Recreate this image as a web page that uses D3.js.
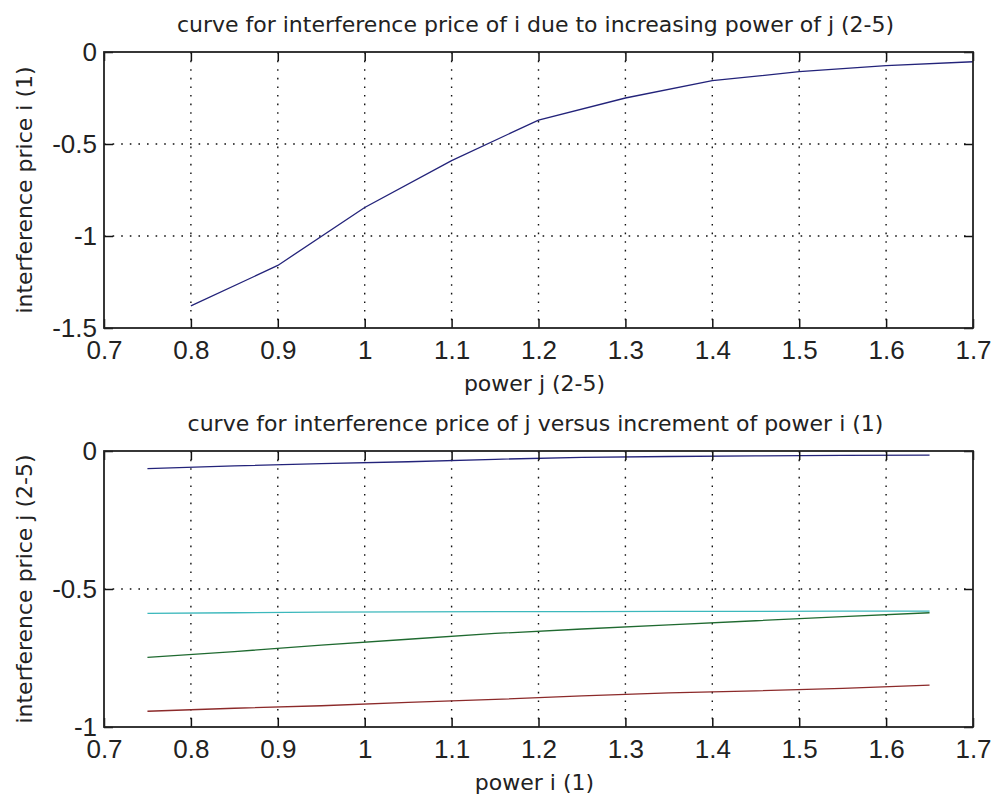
<!DOCTYPE html>
<html>
<head>
<meta charset="utf-8">
<script src="https://cdn.jsdelivr.net/npm/d3@7"></script>
<style>
  body { margin: 0; background: #fff; }
  svg { display: block; }
  .tick text { font-family: "Liberation Sans", Arial, sans-serif; font-size: 26px; fill: #222; }
  .lbl { font-family: "DejaVu Sans", sans-serif; font-size: 22px; fill: #222; }
</style>
</head>
<body>
<svg width="996" height="803"></svg>
<script>
// top panel: interference price of i vs power of j
const powerJ = [0.8, 0.9, 1.0, 1.1, 1.2, 1.3, 1.4, 1.5, 1.6, 1.7];
const priceI = [-1.38, -1.16, -0.845, -0.59, -0.37, -0.25, -0.156, -0.107, -0.074, -0.053];

// bottom panel: interference price of j vs power of i
const powerI = [0.75, 0.85, 0.95, 1.05, 1.15, 1.25, 1.35, 1.45, 1.55, 1.65];
const priceJBlue = [-0.064, -0.054, -0.046, -0.039, -0.030, -0.023, -0.020, -0.018, -0.016, -0.015];
const priceJGreen = [-0.748, -0.727, -0.703, -0.682, -0.661, -0.645, -0.630, -0.615, -0.600, -0.586];
const priceJRed = [-0.943, -0.932, -0.923, -0.911, -0.900, -0.887, -0.876, -0.869, -0.860, -0.848];
const priceJCyan = [-0.588, -0.586, -0.584, -0.583, -0.582, -0.582, -0.581, -0.581, -0.580, -0.580];

const xTicks = [0.7, 0.8, 0.9, 1.0, 1.1, 1.2, 1.3, 1.4, 1.5, 1.6, 1.7];
const yTicksTop = [-1.5, -1, -0.5, 0];
const yTicksBottom = [-1, -0.5, 0];

const svg = d3.select("svg");
const left = 104, right = 973;
const fmt = d => String(+d.toFixed(1));

function panel(top, bottom, yDomain, yTicks, series, title, xLabel, yLabel) {
  const x = d3.scaleLinear().domain([0.7, 1.7]).range([left, right]);
  const y = d3.scaleLinear().domain(yDomain).range([bottom, top]);
  const g = svg.append("g");
  const h = bottom - top, w = right - left;

  // dotted grid
  g.append("g").selectAll("line")
    .data(xTicks.slice(1, -1))
    .join("line")
    .attr("x1", d => x(d)).attr("x2", d => x(d))
    .attr("y1", top).attr("y2", bottom);
  g.append("g").selectAll("line")
    .data(yTicks.slice(1, -1))
    .join("line")
    .attr("x1", left).attr("x2", right)
    .attr("y1", d => y(d)).attr("y2", d => y(d));
  g.selectAll("g line")
    .attr("stroke", "#111")
    .attr("stroke-width", 1.4)
    .attr("stroke-dasharray", "1.6 7");

  // data lines
  const line = d3.line();
  series.forEach(s => {
    g.append("path")
      .attr("fill", "none")
      .attr("stroke", s.color)
      .attr("stroke-width", 1.3)
      .attr("d", line(s.xs.map((v, i) => [x(v), y(s.ys[i])])));
  });

  // axes with inward ticks
  g.append("g").attr("transform", `translate(0,${bottom})`)
    .call(d3.axisBottom(x).tickValues(xTicks).tickFormat(fmt).tickSize(-9).tickSizeOuter(0).tickPadding(13));
  g.append("g").attr("transform", `translate(0,${top})`)
    .call(d3.axisTop(x).tickValues(xTicks).tickFormat("").tickSize(-9).tickSizeOuter(0));
  g.append("g").attr("transform", `translate(${left},0)`)
    .call(d3.axisLeft(y).tickValues(yTicks).tickFormat(fmt).tickSize(-9).tickSizeOuter(0).tickPadding(7));
  g.append("g").attr("transform", `translate(${right},0)`)
    .call(d3.axisRight(y).tickValues(yTicks).tickFormat("").tickSize(-9).tickSizeOuter(0));
  g.selectAll(".domain").remove();
  g.selectAll(".tick line").attr("stroke", "#111").attr("stroke-width", 1.5).attr("stroke-dasharray", null);

  g.append("rect")
    .attr("x", left).attr("y", top).attr("width", w).attr("height", h)
    .attr("fill", "none").attr("stroke", "#222").attr("stroke-width", 1.8);

  g.append("text").attr("class", "lbl")
    .attr("x", (left + right) / 2 - 3).attr("y", top - 20)
    .attr("text-anchor", "middle").text(title);
  g.append("text").attr("class", "lbl")
    .attr("x", (left + right) / 2 - 4).attr("y", bottom + 63)
    .attr("text-anchor", "middle").text(xLabel);
  g.append("text").attr("class", "lbl")
    .attr("transform", `translate(32,${(top + bottom) / 2}) rotate(-90)`)
    .attr("text-anchor", "middle").text(yLabel);
}

panel(52, 328, [-1.5, 0], yTicksTop,
  [{ xs: powerJ, ys: priceI, color: "#23237a" }],
  "curve for interference price of i due to increasing power of j (2-5)",
  "power j (2-5)", "interference price i (1)");

panel(451, 727, [-1, 0], yTicksBottom,
  [
    { xs: powerI, ys: priceJBlue, color: "#23237a" },
    { xs: powerI, ys: priceJGreen, color: "#1f6a30" },
    { xs: powerI, ys: priceJRed, color: "#8c2a2a" },
    { xs: powerI, ys: priceJCyan, color: "#3cb8bc" }
  ],
  "curve for interference price of j versus increment of power i (1)",
  "power i (1)", "interference price j (2-5)");
</script>
</body>
</html>
